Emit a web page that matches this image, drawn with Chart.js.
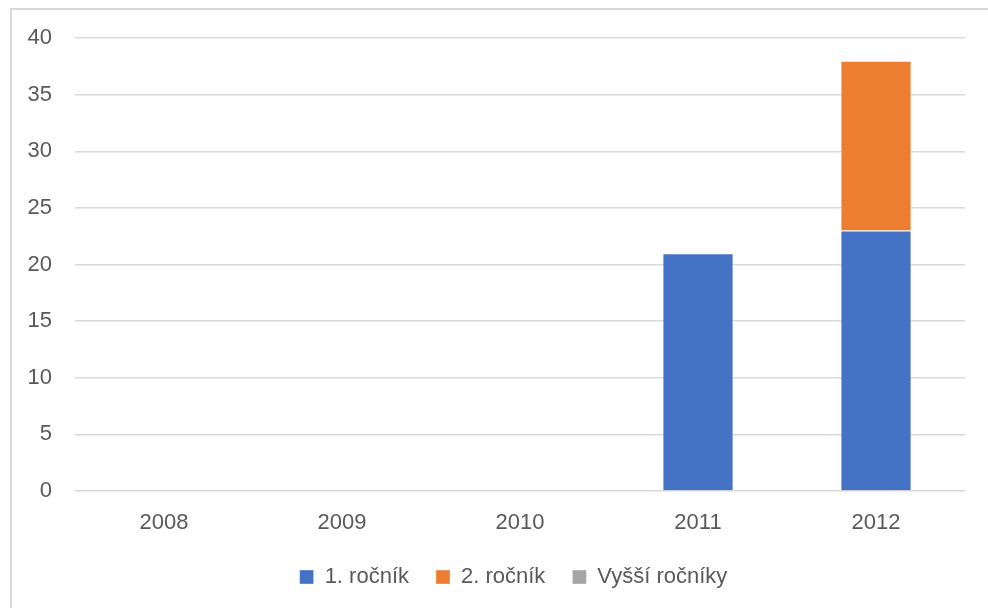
<!DOCTYPE html>
<html>
<head>
<meta charset="utf-8">
<script src="https://cdn.jsdelivr.net/npm/chart.js@4/dist/chart.umd.min.js"></script>
<style>
    html, body { margin: 0; padding: 0; background: #fff; }
    #wrap { position: relative; width: 988px; height: 608px; overflow: hidden; }
    #frame {
        position: absolute; left: 10px; top: 8px; width: 990px; height: 620px;
        border-left: 2px solid #d9d9d9; border-top: 2px solid #d9d9d9;
    }
    #c { position: absolute; left: 0; top: 0; }
</style>
</head>
<body>
<div id="wrap">
    <div id="frame"></div>
    <canvas id="c" width="988" height="608"></canvas>
</div>
<script>
(function () {
    'use strict';

    var years = ['2008', '2009', '2010', '2011', '2012'];
    var prvni = [0, 0, 0, 21, 23];
    var druhy = [0, 0, 0, 0, 15];
    var vyssi = [0, 0, 0, 0, 0];

    var textColor = '#595959';
    var gridColor = '#d9d9d9';
    var font = { family: '"Liberation Sans", Arial, sans-serif', size: 22 };

    Chart.defaults.font.family = font.family;
    Chart.defaults.color = textColor;

    // nudge legend a bit right, like the original (centred under the plot)
    var legendShift = {
        id: 'legendShift',
        afterLayout: function (chart) {
            var lg = chart.legend;
            if (!lg) return;
            lg.left += 31;
            lg.right += 31;
            if (lg.legendHitBoxes) {
                lg.legendHitBoxes.forEach(function (b) { b.left += 31; });
            }
        }
    };

    new Chart(document.getElementById('c'), {
        type: 'bar',
        data: {
            labels: years,
            datasets: [
                { label: '1. ročník', data: prvni, backgroundColor: '#4472c4', borderColor: 'rgba(255,255,255,0.35)', borderWidth: 1 },
                { label: '2. ročník', data: druhy, backgroundColor: '#ed7d31', borderColor: 'rgba(255,255,255,0.35)', borderWidth: 1 },
                { label: 'Vyšší ročníky', data: vyssi, backgroundColor: '#a5a5a5', borderColor: 'rgba(255,255,255,0.35)', borderWidth: 1 }
            ]
        },
        plugins: [legendShift],
        options: {
            responsive: false,
            animation: false,
            maintainAspectRatio: false,
            categoryPercentage: 1,
            barPercentage: 0.4,
            layout: { padding: { top: 38, right: 23, left: 0, bottom: 10 } },
            plugins: {
                tooltip: { enabled: false },
                legend: {
                    position: 'bottom',
                    labels: {
                        font: font,
                        color: textColor,
                        boxWidth: 14,
                        boxHeight: 14,
                        padding: 27
                    }
                }
            },
            scales: {
                x: {
                    stacked: true,
                    grid: { display: false },
                    border: { display: false },
                    ticks: { font: font, color: textColor, padding: 11 },
                    afterFit: function (s) { s.height = 48; }
                },
                y: {
                    stacked: true,
                    min: 0,
                    max: 40,
                    grid: { color: gridColor, lineWidth: 1.5, drawTicks: false },
                    border: { display: false },
                    ticks: { stepSize: 5, font: font, color: textColor, padding: 23 },
                    afterFit: function (s) { s.width = 75; }
                }
            }
        }
    });
})();
</script>
</body>
</html>
